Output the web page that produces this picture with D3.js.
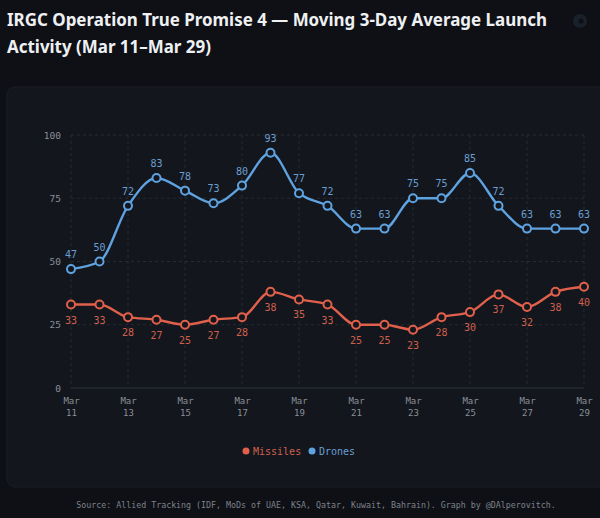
<!DOCTYPE html>
<html><head><meta charset="utf-8">
<script src="https://cdn.jsdelivr.net/npm/d3@7"></script>
<style>
html,body{margin:0;padding:0;background:#0e1015;}
svg{display:block;}
</style></head>
<body>
<svg id="c" width="600" height="518"></svg>
<script>
const days = [11,12,13,14,15,16,17,18,19,20,21,22,23,24,25,26,27,28,29];
const drones = [47,50,72,83,78,73,80,93,77,72,63,63,75,75,85,72,63,63,63];
const missiles = [33,33,28,27,25,27,28,38,35,33,25,25,23,28,30,37,32,38,40];
const xTicks = [11,13,15,17,19,21,23,25,27,29];
const yTicks = [0,25,50,75,100];
const title1 = "IRGC Operation True Promise 4 \u2014 Moving 3-Day Average Launch";
const title2 = "Activity (Mar 11\u2013Mar 29)";
const source = "Source: Allied Tracking (IDF, MoDs of UAE, KSA, Qatar, Kuwait, Bahrain). Graph by @DAlperovitch.";

const svg = d3.select("#c");
const mono = "'DejaVu Sans Mono', 'Liberation Mono', monospace";
svg.append("rect").attr("width",600).attr("height",518).attr("fill","#0e1015");

// title
svg.append("text").attr("x",7).attr("y",26).attr("fill","#eef0f3")
  .attr("font-family","'Noto Sans', Inter, sans-serif").attr("font-weight",700).attr("font-size",16.95).text(title1);
svg.append("text").attr("x",7).attr("y",53).attr("fill","#eef0f3")
  .attr("font-family","'Noto Sans', Inter, sans-serif").attr("font-weight",700).attr("font-size",16.95).text(title2);
// faint icon
svg.append("circle").attr("cx",580).attr("cy",21).attr("r",7).attr("fill","#18212a");
svg.append("circle").attr("cx",581).attr("cy",21).attr("r",2.5).attr("fill","#0e1015");

// panel
svg.append("rect").attr("x",7).attr("y",87).attr("width",610).attr("height",400).attr("rx",8)
  .attr("fill","#13161c").attr("stroke","#1a1e25").attr("stroke-width",1);

const x = d3.scaleLinear().domain([11,29]).range([71,584]);
const y = d3.scaleLinear().domain([0,100]).range([388,135]);

const g = svg.append("g");
// grid
g.selectAll(".hg").data(yTicks).join("line")
  .attr("x1",x(11)).attr("x2",x(29)).attr("y1",d=>y(d)).attr("y2",d=>y(d))
  .attr("stroke",d=>d===0?"#2c313a":"#262a32").attr("stroke-dasharray",d=>d===0?null:"3,3").attr("stroke-width",1);
g.selectAll(".vg").data(xTicks).join("line")
  .attr("x1",d=>x(d)).attr("x2",d=>x(d)).attr("y1",y(100)).attr("y2",y(0))
  .attr("stroke","#262a32").attr("stroke-dasharray","3,3").attr("stroke-width",1);

// axes
const yAxis = d3.axisLeft(y).tickValues(yTicks).tickSize(0).tickPadding(0);
const ya = svg.append("g").attr("transform",`translate(${x(11)-10},0)`).call(yAxis);
ya.select(".domain").remove();
ya.selectAll("text").attr("fill","#8a8f98").attr("font-family",mono).attr("font-size",9.5);

const xAxis = d3.axisBottom(x).tickValues(xTicks).tickSize(0).tickFormat(()=> "");
const xa = svg.append("g").attr("transform",`translate(0,${y(0)})`).call(xAxis);
xa.select(".domain").remove();
xa.selectAll(".tick").each(function(d){
  const t = d3.select(this).select("text").attr("fill","#8a8f98").attr("font-family",mono).attr("font-size",9).attr("y",0).attr("dy",null);
  t.append("tspan").attr("x",0).attr("y",16).text("Mar");
  t.append("tspan").attr("x",0).attr("y",28).text(d);
});

function series(vals,color,labelColor,above){
  const pts = days.map((d,i)=>[d,vals[i]]);
  const line = d3.line().x(d=>x(d[0])).y(d=>y(d[1])).curve(d3.curveMonotoneX);
  svg.append("path").attr("d",line(pts)).attr("fill","none").attr("stroke",color).attr("stroke-width",2.4);
  svg.selectAll(null).data(pts).join("circle")
    .attr("cx",d=>x(d[0])).attr("cy",d=>y(d[1])).attr("r",4)
    .attr("fill","#13161c").attr("stroke",color).attr("stroke-width",2);
  svg.selectAll(null).data(pts).join("text")
    .attr("x",d=>x(d[0])).attr("y",d=>y(d[1]) + (above?-11:19))
    .attr("text-anchor","middle").attr("fill",labelColor)
    .attr("font-family",mono).attr("font-size",10).text(d=>d[1]);
}
series(missiles,"#e0604c","#d0604e",false);
series(drones,"#5fa2e0","#6a9fd3",true);

// legend
const leg = svg.append("g").attr("font-family",mono).attr("font-size",10);
leg.append("circle").attr("cx",246).attr("cy",451).attr("r",3.5).attr("fill","#e0604c");
leg.append("text").attr("x",253).attr("y",455).attr("fill","#d0604e").text("Missiles");
leg.append("circle").attr("cx",312).attr("cy",451).attr("r",3.5).attr("fill","#5fa2e0");
leg.append("text").attr("x",319).attr("y",455).attr("fill","#6a9fd3").text("Drones");

// source
svg.append("text").attr("x",316).attr("y",508).attr("text-anchor","middle")
  .attr("fill","#7d828b").attr("font-family",mono).attr("font-size",8.3).text(source);
</script>
</body></html>
